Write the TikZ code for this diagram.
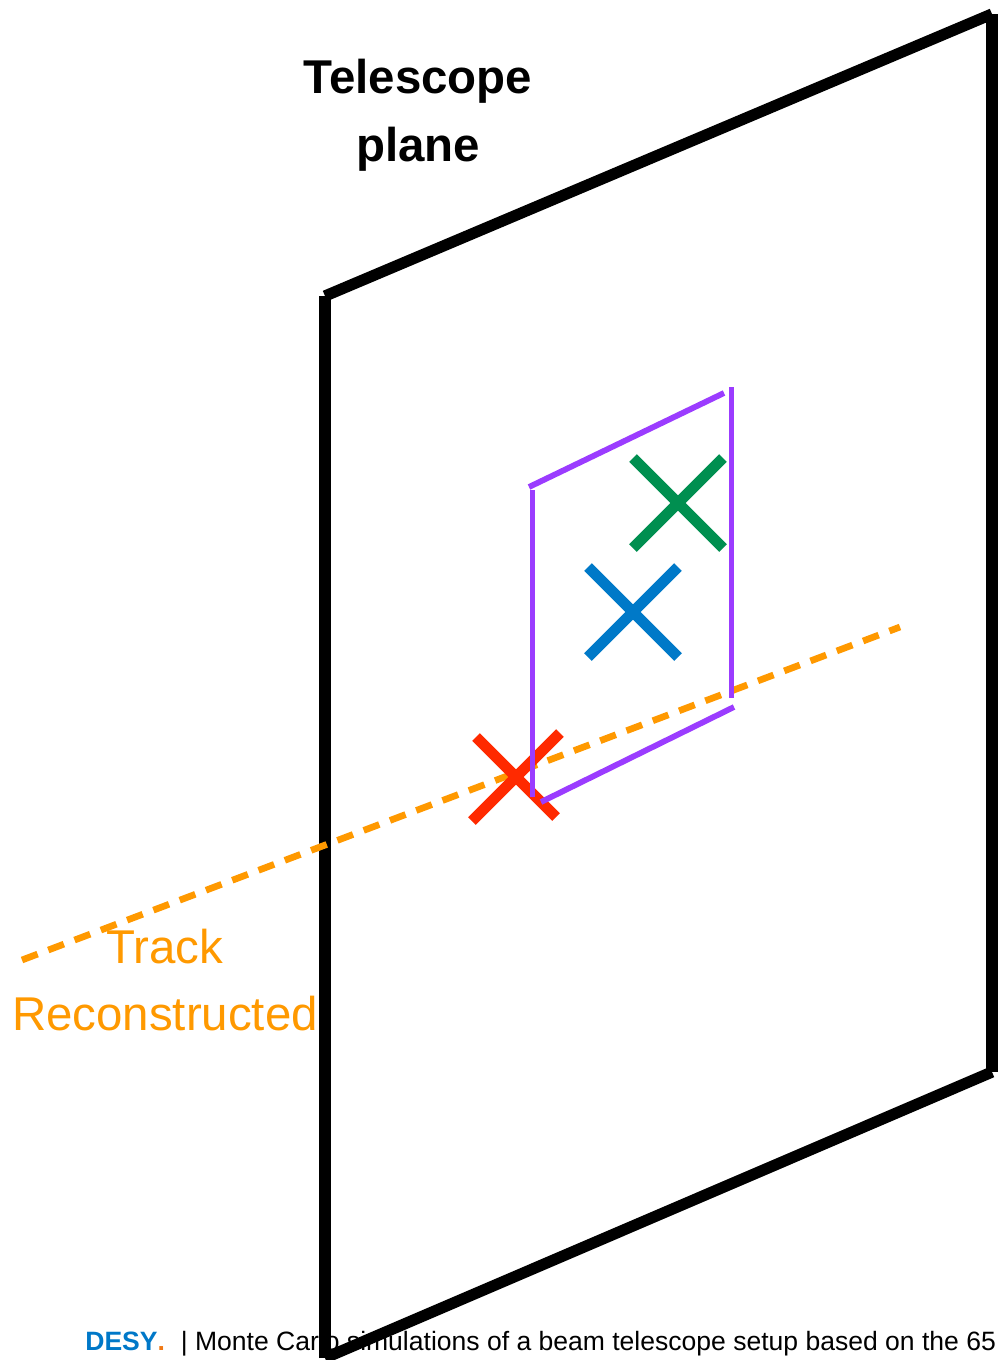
\documentclass[tikz,border=0pt]{standalone}
\usepackage{fontspec}
\setmainfont{Liberation Sans}
\usepackage{xcolor}
\usepackage{tikz}

\definecolor{planeviolet}{RGB}{155,60,255}
\definecolor{hitgreen}{RGB}{0,143,80}
\definecolor{hitblue}{RGB}{0,121,200}
\definecolor{hitred}{RGB}{255,42,0}
\definecolor{trackorange}{RGB}{255,153,0}
\definecolor{desyblue}{RGB}{0,120,200}
\definecolor{desyorange}{RGB}{240,120,20}

\begin{document}
\begin{tikzpicture}[x=0.02cm, y=-0.02cm]

\tikzstyle{frame} = [line width=6.4pt, line cap=butt, black]
\tikzstyle{window} = [line width=3.3pt, line cap=butt, planeviolet]
\tikzstyle{hit} = [line width=6.2pt, line cap=butt]
\tikzstyle{track} = [line width=3.8pt, trackorange, dash pattern=on 9.5pt off 6.5pt]

\useasboundingbox (0,0) rectangle (998,1360);

% footer
\node (footer) [anchor=base west, inner sep=0pt, font=\fontsize{15.1}{18}\selectfont] at (85,1350)
  {{\bfseries\color{desyblue}DESY\color{desyorange}.}\hspace{0.6em}| Monte Carlo simulations of a beam telescope setup based on the 65};

% telescope plane
\coordinate (tl) at (325,296);
\coordinate (tr) at (992,14);
\coordinate (br) at (992,1072);
\coordinate (bl) at (325,1358);
\draw [frame] (bl) -- (tl);
\draw [frame] (tl) -- (tr);
\draw [frame] (tr) -- (br);
\draw [frame] (br) -- (bl);

% reconstructed track
\coordinate (trackstart) at (22,960);
\coordinate (trackend) at (900,627);
\draw [track] (trackstart) -- (trackend);

% hits
\coordinate (red) at (516,777);
\coordinate (green) at (678,503);
\coordinate (blue) at (633,612);
\draw [hit, hitred] (red) ++(-40,-40) -- ++(80,80);
\draw [hit, hitred] (red) ++(44,-44) -- ++(-88,88);

% sensor window
\draw [window] (532.5,490) -- (532.5,797);
\draw [window] (529,487) -- (724,393);
\draw [window] (731.5,387) -- (731.5,698);
\draw [window] (541,802) -- (734,707);

\draw [hit, hitgreen] (green) ++(-45,-45) -- ++(90,90);
\draw [hit, hitgreen] (green) ++(45,-45) -- ++(-90,90);
\draw [hit, hitblue] (blue) ++(-45,-45) -- ++(90,90);
\draw [hit, hitblue] (blue) ++(45,-45) -- ++(-90,90);

% labels
\node (title) [align=center, inner sep=0pt, font=\bfseries\fontsize{27}{38.5}\selectfont] at (418,115) {Telescope\\plane};
\node (tracklabel) [align=center, inner sep=0pt, text=trackorange, font=\fontsize{27}{38.5}\selectfont] at (165,980) {Track\\Reconstructed};

\end{tikzpicture}
\end{document}
